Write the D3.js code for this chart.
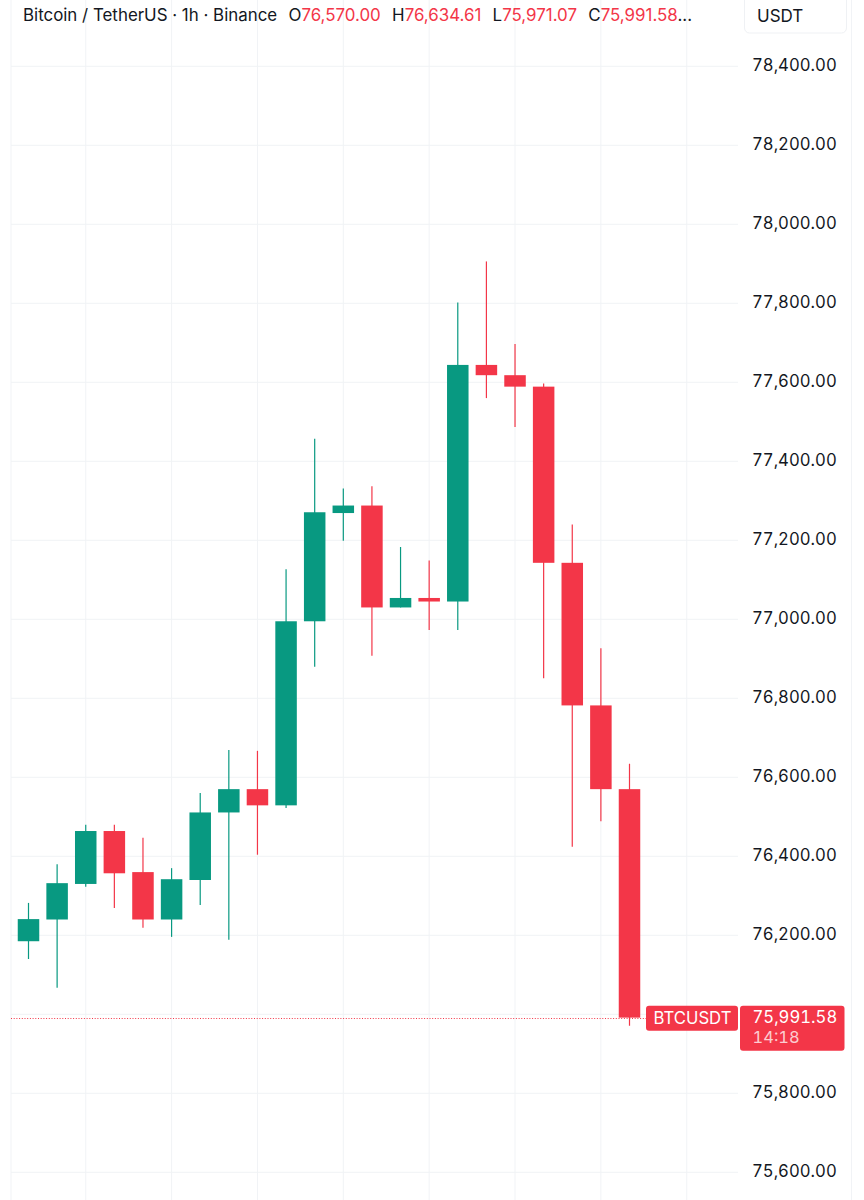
<!DOCTYPE html>
<html>
<head>
<meta charset="utf-8">
<script src="https://cdn.jsdelivr.net/npm/d3@7/dist/d3.min.js"></script>
<style>
  html, body { margin: 0; padding: 0; background: #fff; }
  svg { display: block; font-family: Inter, sans-serif; font-variant-numeric: tabular-nums; }
</style>
</head>
<body>
<div id="chart"></div>
<script>
var opens  = [76185, 76240, 76330, 76464, 76360, 76240, 76340, 76511, 76570, 76529, 76995, 77269, 77288, 77030, 77054, 77045, 77644, 77618, 77589, 77143, 76782, 76570];
var highs  = [76282, 76380, 76480, 76480, 76447, 76370, 76560, 76669, 76667, 77127, 77457, 77331, 77337, 77183, 77149, 77802, 77906, 77697, 77597, 77240, 76927, 76634.61];
var lows   = [76140, 76067, 76323, 76269, 76219, 76196, 76277, 76189, 76404, 76522, 76880, 77199, 76908, 77030, 76973, 76973, 77560, 77487, 76851, 76424, 76489, 75971.07];
var closes = [76241, 76332, 76464, 76357, 76240, 76342, 76511, 76570, 76529, 76995, 77271, 77288, 77030, 77054, 77045, 77644, 77618, 77589, 77143, 76782, 76570, 75991.58];

var priceTicks = [78400, 78200, 78000, 77800, 77600, 77400, 77200, 77000, 76800, 76600, 76400, 76200, 76000, 75800, 75600];
var timeTicks = [2, 5, 8, 11, 14, 17, 20, 23];
var headerParts = [["O", "76,570.00"], ["H", "76,634.61"], ["L", "75,971.07"], ["C", "75,991.58"]];

var width = 864, height = 1200;
var plotLeft = 11, plotRight = 738;
var green = "#089981", red = "#f33648", textColor = "#131722", gridColor = "#f1f3f6";

var svg = d3.select("#chart").append("svg")
  .attr("width", width)
  .attr("height", height);

var x = d3.scaleLinear().domain([0, 21]).range([28.5, 629.5]);
var y = d3.scaleLinear().domain([75600, 78400]).range([1172.3, 66.3]);

// Grid
svg.append("g").selectAll("line")
  .data([plotLeft, 851.5])
  .join("line")
  .attr("x1", function (d) { return d; })
  .attr("x2", function (d) { return d; })
  .attr("y1", 0)
  .attr("y2", height)
  .attr("stroke", gridColor);

svg.append("g").selectAll("line")
  .data(timeTicks)
  .join("line")
  .attr("x1", function (d) { return x(d); })
  .attr("x2", function (d) { return x(d); })
  .attr("y1", 0)
  .attr("y2", height)
  .attr("stroke", gridColor);

svg.append("g").selectAll("line")
  .data(priceTicks)
  .join("line")
  .attr("x1", plotLeft)
  .attr("x2", plotRight)
  .attr("y1", function (d) { return y(d); })
  .attr("y2", function (d) { return y(d); })
  .attr("stroke", gridColor);

// Last price line
var lastY = y(closes[closes.length - 1]);

svg.append("line")
  .attr("x1", plotLeft)
  .attr("x2", 646)
  .attr("y1", Math.round(lastY) + 0.5)
  .attr("y2", Math.round(lastY) + 0.5)
  .attr("stroke", red)
  .attr("stroke-width", 1)
  .attr("stroke-dasharray", "1 1.7");

// Candles
var candles = svg.append("g").selectAll("g")
  .data(d3.range(opens.length))
  .join("g");

var candleColor = function (i) { return closes[i] >= opens[i] ? green : red; };

candles.append("line")
  .attr("x1", function (i) { return x(i); })
  .attr("x2", function (i) { return x(i); })
  .attr("y1", function (i) { return y(highs[i]); })
  .attr("y2", function (i) { return y(lows[i]); })
  .attr("stroke", candleColor)
  .attr("stroke-width", 1.2);

candles.append("rect")
  .attr("x", function (i) { return x(i) - 10.75; })
  .attr("width", 21.5)
  .attr("y", function (i) { return y(Math.max(opens[i], closes[i])); })
  .attr("height", function (i) { return Math.abs(y(opens[i]) - y(closes[i])); })
  .attr("fill", candleColor);

// Price axis
var axis = svg.append("g")
  .attr("transform", "translate(752,-1)")
  .call(d3.axisRight(y).tickValues(priceTicks).tickSize(0).tickPadding(0).tickFormat(d3.format(",.2f")));
axis.select(".domain").remove();
axis.selectAll("text")
  .attr("fill", textColor)
  .style("font-family", "Inter, sans-serif")
  .style("font-size", "16.7px");

// 76,000 sits behind the price label in the picture
axis.selectAll(".tick").filter(function (d) { return d === 76000; }).remove();

// Header
var header = svg.append("text")
  .attr("x", 23)
  .attr("y", 21)
  .attr("font-size", 16.9)
  .attr("fill", textColor)
  .style("font-variant-numeric", "normal");
header.append("tspan").text("Bitcoin / TetherUS · 1h · Binance");
headerParts.forEach(function (p) {
  header.append("tspan").attr("dx", 11.3).text(p[0]);
  header.append("tspan").attr("fill", red).text(p[1]);
});
header.append("tspan").text("...");

// Currency button
svg.append("rect")
  .attr("x", 744.5).attr("y", -10)
  .attr("width", 102).attr("height", 43)
  .attr("rx", 5)
  .attr("fill", "#fff")
  .attr("stroke", "#eff1f4");
svg.append("text")
  .attr("x", 757).attr("y", 21.5)
  .attr("font-size", 17)
  .attr("fill", textColor)
  .text("USDT");

// Last price labels
svg.append("rect")
  .attr("x", 646).attr("y", lastY - 12)
  .attr("width", 92).attr("height", 25)
  .attr("rx", 3)
  .attr("fill", red);
svg.append("text")
  .attr("x", 692.5).attr("y", lastY + 6.4)
  .attr("text-anchor", "middle")
  .attr("font-size", 16.7)
  .attr("fill", "#fff")
  .text("BTCUSDT");
svg.append("rect")
  .attr("x", 740).attr("y", lastY - 12)
  .attr("width", 104.5).attr("height", 45)
  .attr("rx", 3)
  .attr("fill", red);
svg.append("text")
  .attr("x", 752.5).attr("y", lastY + 5.5)
  .attr("font-size", 16.7)
  .attr("fill", "#fff")
  .text(d3.format(",.2f")(closes[closes.length - 1]));
svg.append("text")
  .attr("x", 752.5).attr("y", lastY + 25)
  .attr("font-size", 16.5)
  .attr("fill", "#fff")
  .attr("fill-opacity", 0.75)
  .text("14:18");
</script>
</body>
</html>
